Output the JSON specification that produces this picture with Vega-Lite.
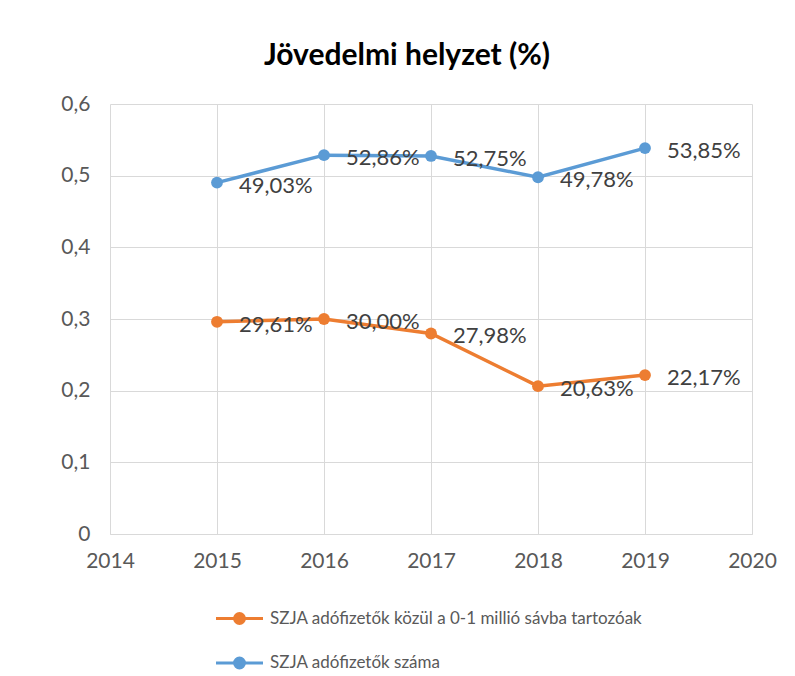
{
  "$schema": "https://vega.github.io/schema/vega-lite/v6.json",
  "width": 642,
  "height": 430,
  "autosize": {"type": "none"},
  "padding": {"left": 110, "top": 104, "right": 43, "bottom": 142},
  "background": "white",
  "title": {
    "text": "Jövedelmi helyzet (%)",
    "fontSize": 30,
    "fontWeight": "bold",
    "color": "#000000",
    "anchor": "middle",
    "dx": -24,
    "offset": 22
  },
  "data": {
    "values": [
      {"year": 2015, "series": "SZJA adófizetők közül a 0-1 millió sávba tartozóak", "value": 0.2961},
      {"year": 2016, "series": "SZJA adófizetők közül a 0-1 millió sávba tartozóak", "value": 0.3000},
      {"year": 2017, "series": "SZJA adófizetők közül a 0-1 millió sávba tartozóak", "value": 0.2798},
      {"year": 2018, "series": "SZJA adófizetők közül a 0-1 millió sávba tartozóak", "value": 0.2063},
      {"year": 2019, "series": "SZJA adófizetők közül a 0-1 millió sávba tartozóak", "value": 0.2217},
      {"year": 2015, "series": "SZJA adófizetők száma", "value": 0.4903},
      {"year": 2016, "series": "SZJA adófizetők száma", "value": 0.5286},
      {"year": 2017, "series": "SZJA adófizetők száma", "value": 0.5275},
      {"year": 2018, "series": "SZJA adófizetők száma", "value": 0.4978},
      {"year": 2019, "series": "SZJA adófizetők száma", "value": 0.5385}
    ]
  },
  "encoding": {
    "x": {
      "field": "year",
      "type": "quantitative",
      "scale": {"domain": [2014, 2020], "nice": false, "zero": false},
      "axis": {
        "title": null,
        "values": [2014, 2015, 2016, 2017, 2018, 2019, 2020],
        "format": "d",
        "ticks": false,
        "labelPadding": 16,
        "labelFontSize": 21,
        "labelColor": "#595959",
        "domainColor": "#D9D9D9",
        "gridColor": "#D9D9D9",
        "labelFlush": false
      }
    },
    "y": {
      "field": "value",
      "type": "quantitative",
      "scale": {"domain": [0, 0.6], "nice": false},
      "axis": {
        "title": null,
        "values": [0, 0.1, 0.2, 0.3, 0.4, 0.5, 0.6],
        "format": "~g",
        "ticks": false,
        "domain": false,
        "labelPadding": 20,
        "labelFontSize": 21,
        "labelColor": "#595959",
        "gridColor": "#D9D9D9"
      }
    }
  },
  "layer": [
    {
      "mark": {"type": "line", "strokeWidth": 3.5, "point": {"filled": true, "size": 140}},
      "encoding": {
        "color": {
          "field": "series",
          "type": "nominal",
          "scale": {
            "domain": ["SZJA adófizetők közül a 0-1 millió sávba tartozóak", "SZJA adófizetők száma"],
            "range": ["#ED7D31", "#5B9BD5"]
          },
          "legend": {
            "orient": "none",
            "legendX": 116,
            "legendY": 501,
            "direction": "vertical",
            "title": null,
            "symbolType": "M-2,0H2M-0.42,0A0.42,0.42 0 1,1 0.42,0A0.42,0.42 0 1,1 -0.42,0Z",
            "symbolSize": 552,
            "symbolStrokeWidth": 3,
            "labelFontSize": 17,
            "labelColor": "#595959",
            "labelOffset": 17,
            "labelLimit": 700,
            "rowPadding": 19.5,
            "encode": {
              "symbols": {
                "update": {
                  "fill": {"scale": "color", "field": "value"},
                  "stroke": {"scale": "color", "field": "value"},
                  "opacity": {"value": 1}
                }
              }
            }
          }
        }
      }
    },
    {
      "mark": {"type": "text", "align": "left", "baseline": "middle", "dx": 22, "dy": 3, "fontSize": 22, "color": "#404040"},
      "encoding": {
        "text": {"field": "value", "type": "quantitative", "format": ".2%"}
      }
    }
  ],
  "config": {
    "font": "Lato",
    "view": {"stroke": null},
    "locale": {
      "number": {"decimal": ",", "thousands": " ", "grouping": [3], "currency": ["", " Ft"]}
    }
  }
}
